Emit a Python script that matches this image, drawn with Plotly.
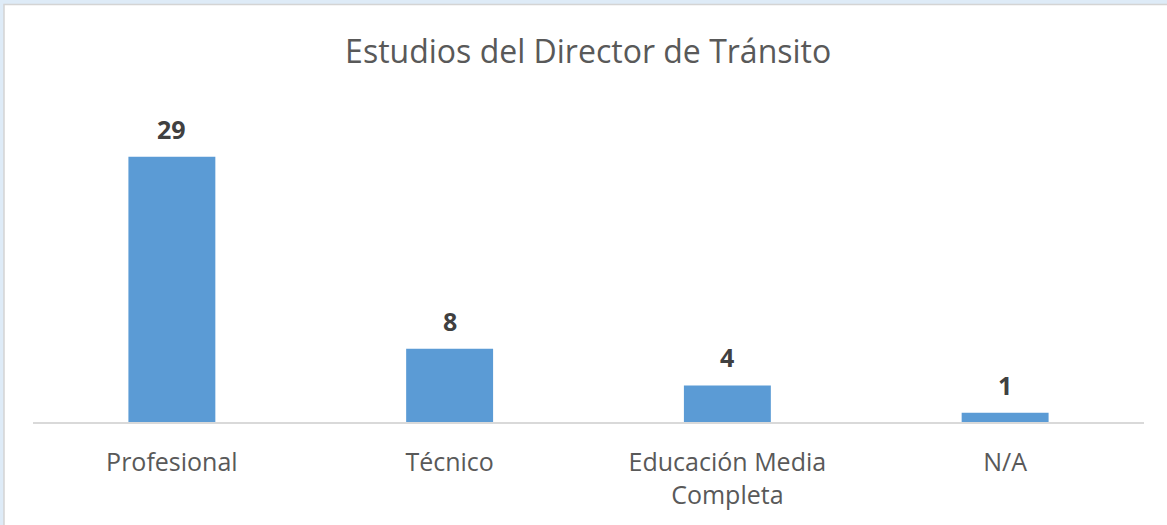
import plotly.graph_objects as go

categories = ["Profesional", "Técnico", "Educación Media<br>Completa", "N/A"]
values = [29, 8, 4, 1]
title_text = "Estudios del Director de Tránsito"

W, H = 1167, 525

fig = go.Figure(
    go.Bar(
        x=categories,
        y=values,
        marker=dict(color="#5B9BD5", line=dict(width=0)),
        width=0.313,
        hoverinfo="skip",
    )
)

for c, v in zip(categories, values):
    fig.add_annotation(
        x=c, y=v, text=f"<b>{v}</b>", showarrow=False,
        yanchor="bottom", yshift=9,
        font=dict(family="Open Sans", size=25, color="#404040"),
    )

fig.update_layout(
    width=W,
    height=H,
    paper_bgcolor="#DEEBF7",
    plot_bgcolor="rgba(0,0,0,0)",
    margin=dict(l=33, r=23, t=102, b=103, autoexpand=False),
    title=dict(
        text=title_text,
        x=0.504,
        xanchor="center",
        y=1 - 52 / H,
        yanchor="middle",
        font=dict(family="Open Sans", size=32, color="#595959"),
    ),
    showlegend=False,
    shapes=[
        dict(
            type="rect", xref="paper", yref="paper",
            x0=-29 / (W - 56), x1=1.05, y0=-0.5, y1=1 + 97.5 / 320,
            fillcolor="white", line=dict(color="#D4D4D4", width=1.5), layer="below",
        )
    ],
)

fig.update_xaxes(
    showline=True,
    linecolor="#D9D9D9",
    linewidth=2,
    showgrid=False,
    ticks="",
    ticklabelstandoff=17,
    tickfont=dict(family="Open Sans", size=25, color="#595959"),
)
fig.update_yaxes(
    range=[0, 35],
    visible=False,
    showgrid=False,
)

fig.write_html(
    "out.html",
    config={"displayModeBar": False},
    post_script="document.body.style.margin='0';",
)
